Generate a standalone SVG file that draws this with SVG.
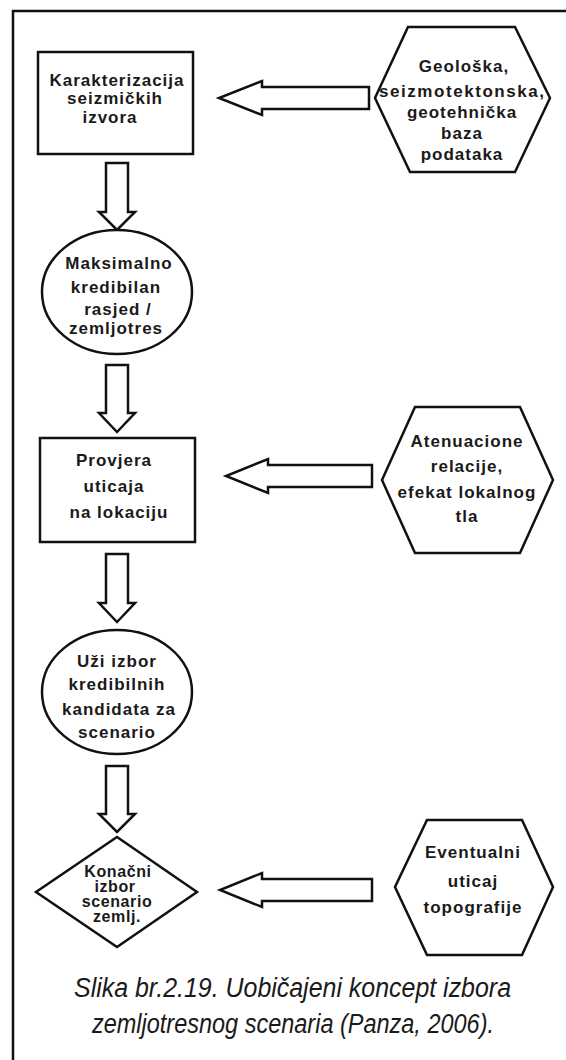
<svg xmlns="http://www.w3.org/2000/svg" width="566" height="1060" viewBox="0 0 566 1060">
  <style>
    .shape { fill: #ffffff; stroke: #111111; stroke-width: 2.5; stroke-linejoin: miter; }
    .arrow { fill: #ffffff; stroke: #111111; stroke-width: 2.5; stroke-linejoin: miter; }
    .frame { fill: none; stroke: #111111; stroke-width: 2.5; }
    .t { font-family: "Liberation Sans", Arial, Helvetica, sans-serif; font-weight: bold; font-size: 17px; letter-spacing: 1px; fill: #1a1a1a; text-anchor: middle; }
    .td { font-family: "Liberation Sans", Arial, Helvetica, sans-serif; font-weight: bold; font-size: 16px; letter-spacing: 0.6px; fill: #1a1a1a; text-anchor: middle; }
    .cap { font-family: "Liberation Sans Narrow", "Liberation Sans", Arial, sans-serif; font-style: italic; font-size: 27px; fill: #1a1a1a; }
  </style>
  <rect x="0" y="0" width="566" height="1060" fill="#ffffff"/>
  <path class="frame" d="M13,1060 V11 H566"/>

  <g id="connectors">
    <polygon class="arrow" points="369,87 262,87 262,81 219,98 262,115 262,109 369,109"/>
    <polygon class="arrow" points="372,465 268,465 268,459 226,476 268,493 268,487 372,487"/>
    <polygon class="arrow" points="372,879 262,879 262,873 220,890 262,907 262,901 372,901"/>
    <polygon class="arrow" points="106,163 128,163 128,212 135,212 117,230 99,212 106,212"/>
    <polygon class="arrow" points="106,365 128,365 128,413 135,413 117,432 99,413 106,413"/>
    <polygon class="arrow" points="106,554 128,554 128,603 135,603 117,622 99,603 106,603"/>
    <polygon class="arrow" points="106,766 128,766 128,814 135,814 117,832 99,814 106,814"/>
  </g>

  <g id="node-karakterizacija">
    <rect class="shape" x="38" y="52" width="155" height="102"/>
    <text class="t" x="117" y="86">Karakterizacija</text>
    <text class="t" x="115" y="104">seizmičkih</text>
    <text class="t" x="110" y="123">izvora</text>
  </g>

  <g id="node-geoloska">
    <polygon class="shape" points="408,27 515,27 550,98 515,172 410,172 375,98"/>
    <text class="t" x="464" y="72">Geološka,</text>
    <text class="t" x="462" y="97" textLength="166">seizmotektonska,</text>
    <text class="t" x="462" y="118">geotehnička</text>
    <text class="t" x="462" y="139">baza</text>
    <text class="t" x="462" y="160">podataka</text>
  </g>

  <g id="node-maksimalno">
    <ellipse class="shape" cx="117" cy="292" rx="75" ry="62"/>
    <text class="t" x="119" y="269">Maksimalno</text>
    <text class="t" x="116" y="293">kredibilan</text>
    <text class="t" x="118" y="315">rasjed /</text>
    <text class="t" x="116" y="334">zemljotres</text>
  </g>

  <g id="node-provjera">
    <rect class="shape" x="40" y="438" width="155" height="104"/>
    <text class="t" x="114" y="466">Provjera</text>
    <text class="t" x="114" y="492">uticaja</text>
    <text class="t" x="119" y="518">na lokaciju</text>
  </g>

  <g id="node-atenuacione">
    <polygon class="shape" points="415,407 520,407 553,480 520,553 415,553 382,480"/>
    <text class="t" x="467" y="447">Atenuacione</text>
    <text class="t" x="467" y="472">relacije,</text>
    <text class="t" x="467" y="498">efekat lokalnog</text>
    <text class="t" x="467" y="522">tla</text>
  </g>

  <g id="node-uzi-izbor">
    <ellipse class="shape" cx="117" cy="692" rx="75" ry="62"/>
    <text class="t" x="117" y="667">Uži izbor</text>
    <text class="t" x="117" y="690">kredibilnih</text>
    <text class="t" x="119" y="715">kandidata za</text>
    <text class="t" x="117" y="738">scenario</text>
  </g>

  <g id="node-konacni">
    <polygon class="shape" points="117,837 197,892 117,947 36,892"/>
    <text class="td" x="118" y="877">Konačni</text>
    <text class="td" x="115" y="892">izbor</text>
    <text class="td" x="117" y="907">scenario</text>
    <text class="td" x="117" y="922">zemlj.</text>
  </g>

  <g id="node-eventualni">
    <polygon class="shape" points="427,820 522,820 553,887 522,955 427,955 395,887"/>
    <text class="t" x="473" y="858">Eventualni</text>
    <text class="t" x="473" y="887">uticaj</text>
    <text class="t" x="473" y="913">topografije</text>
  </g>

  <g id="caption">
    <text class="cap" x="74" y="997" textLength="437" lengthAdjust="spacingAndGlyphs">Slika br.2.19. Uobičajeni koncept izbora</text>
    <text class="cap" x="92" y="1033" textLength="402" lengthAdjust="spacingAndGlyphs">zemljotresnog scenaria (Panza, 2006).</text>
  </g>
</svg>
